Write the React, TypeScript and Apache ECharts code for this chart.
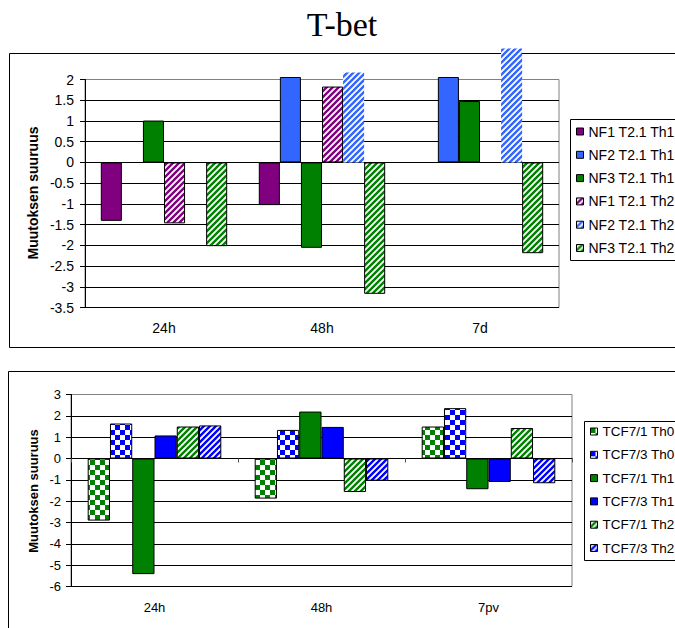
import React, { useEffect, useRef } from "react";
import * as echarts from "echarts";

// Upper panel: NF constructs, T2.1 cells
const topCategories = ["24h", "48h", "7d"];
const topSeriesNames = [
  "NF1 T2.1 Th1",
  "NF2 T2.1 Th1",
  "NF3 T2.1 Th1",
  "NF1 T2.1 Th2",
  "NF2 T2.1 Th2",
  "NF3 T2.1 Th2",
];
const nf1Th1 = [-1.41, -1.03, null];
const nf2Th1 = [null, 2.06, 2.06];
const nf3Th1 = [1.01, -2.06, 1.48];
const nf1Th2 = [-1.47, 1.83, null];
const nf2Th2 = [null, 2.17, 2.75];
const nf3Th2 = [-2.02, -3.17, -2.19];

// Lower panel: TCF7 constructs
const bottomCategories = ["24h", "48h", "7pv"];
const bottomSeriesNames = [
  "TCF7/1 Th0",
  "TCF7/3 Th0",
  "TCF7/1 Th1",
  "TCF7/3 Th1",
  "TCF7/1 Th2",
  "TCF7/3 Th2",
];
const tcf1Th0 = [-2.91, -1.88, 1.5];
const tcf3Th0 = [1.64, 1.34, 2.36];
const tcf1Th1 = [-5.42, 2.2, -1.44];
const tcf3Th1 = [1.08, 1.48, -1.1];
const tcf1Th2 = [1.5, -1.57, 1.43];
const tcf3Th2 = [1.55, -1.04, -1.16];

const yTitle = "Muutoksen suuruus";
const chartTitle = "T-bet";

const FONT = 'Arial, "Liberation Sans", sans-serif';

function stripePattern(color: string, size = 6, width = 2.4) {
  const c = document.createElement("canvas");
  c.width = size;
  c.height = size;
  const ctx = c.getContext("2d")!;
  ctx.fillStyle = "#ffffff";
  ctx.fillRect(0, 0, size, size);
  ctx.strokeStyle = color;
  ctx.lineWidth = width;
  ctx.beginPath();
  for (const ox of [-size, 0, size]) {
    ctx.moveTo(ox - 1, size + 1);
    ctx.lineTo(ox + size + 1, -1);
  }
  ctx.stroke();
  return {
    image: c.toDataURL(),
    repeat: "repeat",
    imageWidth: size,
    imageHeight: size,
  };
}

function checkerPattern(color: string, cell = 5) {
  const size = cell * 2;
  const c = document.createElement("canvas");
  c.width = size;
  c.height = size;
  const ctx = c.getContext("2d")!;
  ctx.fillStyle = "#ffffff";
  ctx.fillRect(0, 0, size, size);
  ctx.fillStyle = color;
  ctx.fillRect(0, 0, cell, cell);
  ctx.fillRect(cell, cell, cell, cell);
  return {
    image: c.toDataURL(),
    repeat: "repeat",
    imageWidth: size,
    imageHeight: size,
  };
}

export default function App() {
  const ref = useRef<HTMLDivElement>(null);

  useEffect(() => {
    if (!ref.current) return;
    const chart = echarts.init(ref.current, undefined, { renderer: "svg" });

    const purple = "#800080";
    const lightBlue = "#3366ff";
    const green = "#008000";
    const blue = "#0000ff";

    const topFills = [
      purple,
      lightBlue,
      green,
      stripePattern(purple),
      stripePattern(lightBlue),
      stripePattern(green),
    ];
    const topData = [nf1Th1, nf2Th1, nf3Th1, nf1Th2, nf2Th2, nf3Th2];
    const topBorders = [1, 1, 1, 1, 0, 1];

    const bottomFills = [
      checkerPattern(green),
      checkerPattern(blue),
      green,
      blue,
      stripePattern(green),
      stripePattern(blue),
    ];
    const bottomData = [tcf1Th0, tcf3Th0, tcf1Th1, tcf3Th1, tcf1Th2, tcf3Th2];

    const topSeries = topSeriesNames.map((name, i) => ({
      name,
      type: "bar",
      xAxisIndex: 0,
      yAxisIndex: 0,
      data: topData[i],
      barGap: "0%",
      barCategoryGap: "20%",
      clip: false,
      itemStyle: {
        color: topFills[i],
        borderColor: "#000",
        borderWidth: topBorders[i],
      },
    }));

    const bottomSeries = bottomSeriesNames.map((name, i) => ({
      name,
      type: "bar",
      xAxisIndex: 1,
      yAxisIndex: 1,
      data: bottomData[i],
      barGap: "0%",
      barCategoryGap: "20%",
      clip: false,
      itemStyle: {
        color: bottomFills[i],
        borderColor: "#000",
        borderWidth: 1,
      },
    }));

    const boxStyle = { fill: "none", stroke: "#000", lineWidth: 1 };

    const option: any = {
      animation: false,
      backgroundColor: "#ffffff",
      textStyle: { fontFamily: FONT },
      graphic: [
        {
          type: "text",
          x: 342,
          y: 24.5,
          z: 0,
          style: {
            text: chartTitle,
            font: '34px "Liberation Serif", "Times New Roman", serif',
            fill: "#000",
            align: "center",
            verticalAlign: "middle",
          },
        },
        { type: "rect", z: 0, shape: { x: 9.5, y: 53.5, width: 700, height: 294 }, style: boxStyle },
        { type: "rect", z: 0, shape: { x: 8.5, y: 371.5, width: 700, height: 300 }, style: boxStyle },
        { type: "rect", z: 0, shape: { x: 570.5, y: 119.5, width: 200, height: 141 }, style: boxStyle },
        { type: "rect", z: 0, shape: { x: 584.5, y: 421.5, width: 200, height: 139 }, style: boxStyle },
        {
          type: "text",
          x: 33,
          y: 193,
          rotation: Math.PI / 2,
          style: {
            text: yTitle,
            font: `bold 14px ${FONT}`,
            fill: "#000",
            align: "center",
            verticalAlign: "middle",
          },
        },
        {
          type: "text",
          x: 33,
          y: 491,
          rotation: Math.PI / 2,
          style: {
            text: yTitle,
            font: `bold 13px ${FONT}`,
            fill: "#000",
            align: "center",
            verticalAlign: "middle",
          },
        },
      ],
      grid: [
        {
          left: 85,
          top: 79.5,
          width: 474,
          height: 228,
          show: true,
          borderColor: "#808080",
          borderWidth: 1,
          backgroundColor: "transparent",
        },
        {
          left: 71,
          top: 394.5,
          width: 501,
          height: 192,
          show: true,
          borderColor: "#808080",
          borderWidth: 1,
          backgroundColor: "transparent",
        },
      ],
      xAxis: [
        {
          gridIndex: 0,
          type: "category",
          position: "bottom",
          data: topCategories,
          axisLine: { show: false, onZero: false },
          axisTick: { show: false },
          axisLabel: { fontSize: 14, color: "#000", margin: 13 },
          splitLine: { show: false },
        },
        {
          gridIndex: 1,
          type: "category",
          position: "bottom",
          data: bottomCategories,
          axisLine: { show: false, onZero: false },
          axisTick: { show: false },
          axisLabel: { fontSize: 13, color: "#000", margin: 14 },
          splitLine: { show: false },
        },
        {
          // zero line with its category tick marks
          gridIndex: 1,
          type: "category",
          position: "bottom",
          data: bottomCategories,
          axisLine: { show: true, onZero: true, lineStyle: { color: "#000", width: 1 } },
          axisTick: { show: true, length: 4, lineStyle: { color: "#555" } },
          axisLabel: { show: false },
          splitLine: { show: false },
        },
      ],
      yAxis: [
        {
          gridIndex: 0,
          type: "value",
          min: -3.5,
          max: 2,
          interval: 0.5,
          axisLine: { show: true, lineStyle: { color: "#000" } },
          axisTick: { show: true, length: 5, lineStyle: { color: "#000" } },
          axisLabel: { fontSize: 14, color: "#000", margin: 11 },
          splitLine: { show: true, showMaxLine: false, lineStyle: { color: "#000", width: 1 } },
        },
        {
          gridIndex: 1,
          type: "value",
          min: -6,
          max: 3,
          interval: 1,
          axisLine: { show: true, lineStyle: { color: "#000" } },
          axisTick: { show: true, length: 5, lineStyle: { color: "#000" } },
          axisLabel: { fontSize: 13, color: "#000", margin: 10 },
          splitLine: { show: true, showMaxLine: false, lineStyle: { color: "#000", width: 1 } },
        },
      ],
      legend: [
        {
          data: topSeriesNames,
          orient: "vertical",
          left: 576,
          top: 120,
          padding: 0,
          itemWidth: 7,
          itemHeight: 7,
          itemGap: 0.3,
          icon: "rect",
          selectedMode: false,
          itemStyle: { borderColor: "#000", borderWidth: 1 },
          textStyle: { fontSize: 14, lineHeight: 23, color: "#000", fontFamily: FONT },
        },
        {
          data: bottomSeriesNames,
          orient: "vertical",
          left: 590,
          top: 420,
          padding: 0,
          itemWidth: 7,
          itemHeight: 7,
          itemGap: 0.3,
          icon: "rect",
          selectedMode: false,
          itemStyle: { borderColor: "#000", borderWidth: 1 },
          textStyle: { fontSize: 13.5, lineHeight: 23, color: "#000", fontFamily: FONT },
        },
      ],
      series: [...topSeries, ...bottomSeries],
    };

    chart.setOption(option);
    return () => chart.dispose();
  }, []);

  return (
    <div
      ref={ref}
      style={{ position: "absolute", left: 0, top: 0, width: 675, height: 628 }}
    />
  );
}
